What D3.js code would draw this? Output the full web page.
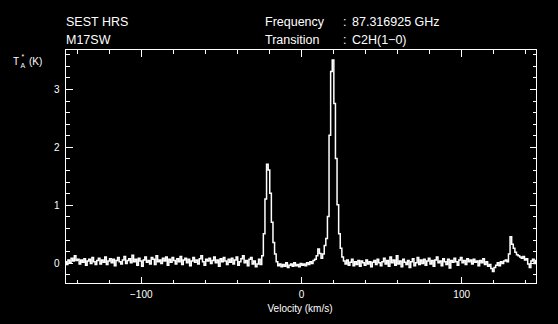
<!DOCTYPE html>
<html lang="en">
<head>
<meta charset="UTF-8">
<title>SEST HRS M17SW C2H(1-0)</title>
<script src="https://cdn.jsdelivr.net/npm/d3@7/dist/d3.min.js"></script>
<style>
    html, body { margin: 0; padding: 0; background: #000; }
    svg { display: block; background: #000; }
    text { fill: #fff; font-family: "Liberation Sans", Arial, sans-serif; }
    .axis path, .axis line { stroke: #fff; }
    .axis path { display: none; }
</style>
</head>
<body>
<script>
    // header texts
    const headerLeft = ['SEST HRS', 'M17SW'];
    const headerKeys = ['Frequency', 'Transition'];
    const headerVals = ['87.316925 GHz', 'C2H(1\u22120)'];

    // spectrum: one channel per km/s, starting at -147 km/s
    const velStart = -147;
    const chanWidth = 1;
    const tA = [
        0.02, -0.03, 0.05, 0.00, 0.08, 0.03, 0.12, 0.04, 0.06, -0.02,   // -147..-138
        0.05, 0.01, 0.07, -0.04, 0.03, 0.06, -0.01, 0.09, 0.02, -0.03,  // -137..-128
        0.04, 0.08, -0.02, 0.05, 0.01, 0.10, -0.03, 0.03, 0.07, 0.00,   // -127..-118
        0.06, -0.05, 0.04, 0.09, 0.02, -0.02, 0.05, 0.11, -0.01, 0.04,  // -117..-108
        0.07, 0.00, 0.13, 0.02, 0.06, -0.04, 0.08, 0.03, -0.06, 0.05,   // -107..-98
        0.10, 0.01, 0.04, -0.02, 0.09, 0.06, -0.03, 0.12, 0.02, 0.05,   // -97..-88
        -0.01, 0.08, 0.03, 0.10, -0.04, 0.06, 0.01, 0.09, 0.04, -0.02,  // -87..-78
        0.07, 0.02, 0.11, -0.03, 0.05, 0.08, 0.00, 0.06, -0.05, 0.03,   // -77..-68
        0.09, 0.01, 0.05, -0.02, 0.07, 0.12, 0.02, -0.04, 0.06, 0.03,   // -67..-58
        0.08, -0.01, 0.04, 0.10, 0.00, 0.05, -0.06, 0.07, 0.02, 0.09,   // -57..-48
        0.03, -0.03, 0.06, 0.01, 0.08, -0.02, 0.05, 0.10, -0.04, 0.02,  // -47..-38
        0.07, 0.12, 0.00, 0.04, -0.05, 0.06, 0.09, -0.02, 0.03, -0.07,  // -37..-28
        -0.02, 0.06, -0.03, 0.12, 0.50, 1.10, 1.70, 1.60, 1.20, 0.70,   // -27..-18
        0.35, 0.15, 0.02, -0.05, -0.02, -0.07, -0.03, -0.06, 0.00, -0.08, // -17..-8
        -0.04, -0.02, -0.06, 0.00, -0.05, -0.03, -0.07, -0.01, -0.04, -0.02, // -7..2
        -0.05, 0.00, -0.03, 0.02, -0.01, 0.04, 0.06, 0.12, 0.24, 0.16,  // 3..12
        0.08, 0.15, 0.30, 0.42, 0.80, 2.20, 3.30, 3.50, 2.75, 1.80,     // 13..22
        1.00, 0.50, 0.25, 0.10, 0.03, -0.02, 0.05, -0.04, 0.01, 0.06,   // 23..32
        -0.05, 0.02, -0.03, 0.04, -0.06, 0.03, 0.00, -0.04, 0.05, -0.02, // 33..42
        0.02, -0.07, 0.01, 0.04, -0.03, 0.06, 0.00, -0.05, 0.02, 0.08,  // 43..52
        -0.02, 0.04, -0.06, 0.10, 0.00, 0.05, -0.04, 0.12, -0.02, 0.03, // 53..62
        -0.07, 0.06, 0.01, -0.03, 0.04, -0.08, 0.02, 0.07, -0.05, 0.00, // 63..72
        0.09, -0.03, 0.05, -0.01, 0.06, -0.04, 0.03, 0.08, -0.02, 0.04, // 73..82
        -0.06, 0.05, 0.10, 0.00, 0.03, -0.05, 0.07, 0.02, -0.03, 0.06,  // 83..92
        -0.09, 0.04, 0.01, 0.08, 0.02, -0.04, 0.05, 0.09, 0.00, 0.04,   // 93..102
        -0.03, 0.07, 0.02, 0.05, -0.02, 0.06, 0.01, 0.03, -0.05, 0.04,  // 103..112
        0.00, 0.07, -0.03, 0.02, -0.06, -0.03, -0.10, -0.15, -0.08, -0.04, // 113..122
        0.00, -0.05, 0.02, -0.01, 0.03, 0.05, 0.02, 0.15, 0.45, 0.32,   // 123..132
        0.25, 0.18, 0.14, 0.12, 0.10, 0.08, 0.11, 0.05, 0.07, -0.02,    // 133..142
        -0.08, 0.03, 0.06, -0.01, 0.04                                  // 143..147
    ];

    // axis ticks
    const xMajor = [-100, 0, 100];
    const xMinor = [-140, -120, -80, -60, -40, -20, 20, 40, 60, 80, 120, 140];
    const yMajor = [0, 1, 2, 3];
    const yMinor = [-0.2, 0.2, 0.4, 0.6, 0.8, 1.2, 1.4, 1.6, 1.8, 2.2, 2.4, 2.6, 2.8, 3.2, 3.4, 3.6];

    const width = 558;
    const height = 324;
    const frameL = 65.5, frameR = 536.5, frameT = 49.5, frameB = 283.5;

    const svg = d3.select('body')
        .append('svg')
        .attr('width', width)
        .attr('height', height);

    const x = d3.scaleLinear().domain([-147, 147]).range([frameL, frameR]);
    const y = d3.scaleLinear().domain([-0.357, 3.68]).range([frameB, frameT]);

    const spectrum = tA.map((t, i) => ({ v: velStart + i * chanWidth, t: t }));

    // spectrum as histogram
    const line = d3.line()
        .x(d => x(d.v))
        .y(d => y(d.t))
        .curve(d3.curveStep);

    svg.append('path')
        .datum(spectrum)
        .attr('d', line)
        .attr('fill', 'none')
        .attr('stroke', '#fff')
        .attr('stroke-width', 1.5);

    // frame
    svg.append('rect')
        .attr('x', frameL).attr('y', frameT)
        .attr('width', frameR - frameL).attr('height', frameB - frameT)
        .attr('fill', 'none').attr('stroke', '#fff').attr('stroke-width', 1.2)
        .attr('shape-rendering', 'crispEdges');

    function addAxis(axis, tx, ty) {
        const g = svg.append('g')
            .attr('class', 'axis')
            .attr('transform', `translate(${tx},${ty})`)
            .attr('shape-rendering', 'crispEdges')
            .call(axis);
        g.selectAll('text')
            .style('font-size', '10px')
            .attr('fill', '#fff');
        return g;
    }

    // bottom
    addAxis(d3.axisBottom(x).tickValues(xMajor).tickSize(-7).tickPadding(7)
        .tickFormat(d => d < 0 ? '\u2212' + Math.abs(d) : d), 0, frameB);
    addAxis(d3.axisBottom(x).tickValues(xMinor).tickSize(-4).tickFormat(''), 0, frameB);
    // top
    addAxis(d3.axisTop(x).tickValues(xMajor).tickSize(-7).tickFormat(''), 0, frameT);
    addAxis(d3.axisTop(x).tickValues(xMinor).tickSize(-4).tickFormat(''), 0, frameT);
    // left
    addAxis(d3.axisLeft(y).tickValues(yMajor).tickSize(-7).tickPadding(6)
        .tickFormat(d3.format('d')), frameL, 0);
    addAxis(d3.axisLeft(y).tickValues(yMinor).tickSize(-4).tickFormat(''), frameL, 0);
    // right
    addAxis(d3.axisRight(y).tickValues(yMajor).tickSize(-7).tickFormat(''), frameR, 0);
    addAxis(d3.axisRight(y).tickValues(yMinor).tickSize(-4).tickFormat(''), frameR, 0);

    // axis titles
    svg.append('text')
        .attr('x', (frameL + frameR) / 2 - 1)
        .attr('y', 312)
        .attr('text-anchor', 'middle')
        .style('font-size', '10px')
        .text('Velocity (km/s)');

    const yl = svg.append('g').attr('transform', 'translate(13,65)');
    yl.append('text').attr('x', 0).attr('y', 0).style('font-size', '10px').text('T');
    yl.append('text').attr('x', 7.5).attr('y', 2.5).style('font-size', '7px').text('A');
    yl.append('text').attr('x', 8.5).attr('y', -6).style('font-size', '7px').text('*');
    yl.append('text').attr('x', 16).attr('y', 0).style('font-size', '10px').text('(K)');

    // header
    svg.selectAll('.hl')
        .data(headerLeft)
        .enter().append('text')
        .attr('class', 'hl')
        .attr('x', 66)
        .attr('y', (d, i) => 26 + i * 18)
        .style('font-size', '12.5px')
        .text(d => d);

    svg.selectAll('.hk')
        .data(headerKeys)
        .enter().append('text')
        .attr('class', 'hk')
        .attr('x', 265)
        .attr('y', (d, i) => 26 + i * 18)
        .style('font-size', '12.5px')
        .text(d => d);

    svg.selectAll('.hc')
        .data(headerKeys)
        .enter().append('text')
        .attr('class', 'hc')
        .attr('x', 343)
        .attr('y', (d, i) => 26 + i * 18)
        .style('font-size', '12.5px')
        .text(':');

    svg.selectAll('.hv')
        .data(headerVals)
        .enter().append('text')
        .attr('class', 'hv')
        .attr('x', 352)
        .attr('y', (d, i) => 26 + i * 18)
        .style('font-size', '12.5px')
        .text(d => d);
</script>
</body>
</html>
